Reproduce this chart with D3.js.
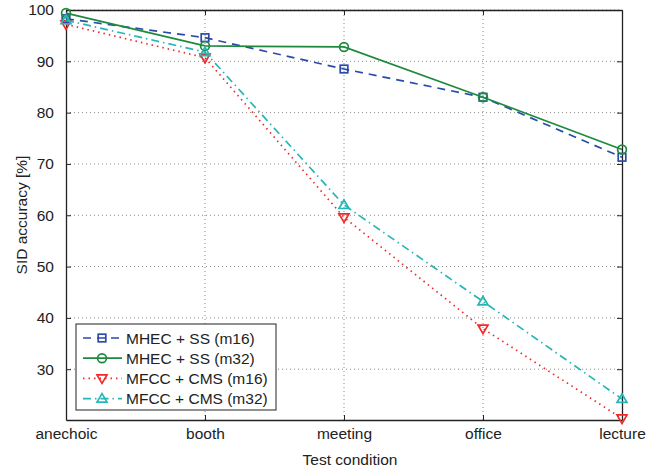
<!DOCTYPE html>
<html>
<head>
<meta charset="utf-8">
<script src="https://cdn.jsdelivr.net/npm/d3@7"></script>
<style>
  body { margin: 0; background: #fff; }
  svg text { font-family: "Liberation Sans", Arial, sans-serif; fill: #222; }
  .grid line { stroke: #888; stroke-dasharray: 1,3; }
</style>
</head>
<body>
<div id="chart"></div>
<script>
// data
const conditions = ["anechoic", "booth", "meeting", "office", "lecture"];
const mhecM16 = [98.3, 94.6, 88.5, 83.0, 71.3];
const mhecM32 = [99.4, 93.0, 92.8, 83.0, 72.8];
const mfccM16 = [97.2, 90.7, 59.6, 37.9, 20.4];
const mfccM32 = [98.0, 91.8, 62.0, 43.2, 24.2];
const yTicks = [30, 40, 50, 60, 70, 80, 90, 100];

const width = 657;
const height = 471;
const margin = {top: 10, right: 35, bottom: 51, left: 66};
const fontSize = "15.5px";

const svg = d3.select("#chart")
    .append("svg")
    .attr("width", width)
    .attr("height", height);

const x = d3.scalePoint()
    .domain(conditions)
    .range([margin.left, width - margin.right]);

const y = d3.scaleLinear()
    .domain([20.1, 100])
    .range([height - margin.bottom, margin.top]);

const x0 = margin.left, x1 = width - margin.right;
const y0 = height - margin.bottom, y1 = margin.top;

// grid
const grid = svg.append("g").attr("class", "grid");
grid.selectAll(".gy")
    .data(yTicks)
    .enter()
    .append("line")
    .attr("x1", x0).attr("x2", x1)
    .attr("y1", d => y(d)).attr("y2", d => y(d));
grid.selectAll(".gx")
    .data(conditions.slice(1, -1))
    .enter()
    .append("line")
    .attr("y1", y0).attr("y2", y1)
    .attr("x1", d => x(d)).attr("x2", d => x(d));

// axes (matlab style: ticks inside, box)
const yaxis = d3.axisLeft(y).tickValues(yTicks).tickSizeInner(-5).tickSizeOuter(0).tickPadding(12);
const yaxisR = d3.axisRight(y).tickValues(yTicks).tickSizeInner(-5).tickSizeOuter(0).tickFormat("");
const xaxis = d3.axisBottom(x).tickSizeInner(-5).tickSizeOuter(0).tickPadding(8);
const xaxisT = d3.axisTop(x).tickSizeInner(-5).tickSizeOuter(0).tickFormat("");

svg.append("g").attr("transform", "translate(" + x0 + ",0)").call(yaxis);
svg.append("g").attr("transform", "translate(" + x1 + ",0)").call(yaxisR);
svg.append("g").attr("transform", "translate(0," + y0 + ")").call(xaxis);
svg.append("g").attr("transform", "translate(0," + y1 + ")").call(xaxisT);

svg.selectAll(".domain").attr("stroke", "#222").attr("stroke-width", 1.3);
svg.selectAll(".tick line").attr("stroke", "#222");
svg.selectAll(".tick text").style("font-size", fontSize).attr("fill", "#222");

svg.append("text")
    .attr("x", (x0 + x1) / 2 + 6)
    .attr("y", 465)
    .attr("text-anchor", "middle")
    .style("font-size", fontSize)
    .text("Test condition");

svg.append("text")
    .attr("transform", "rotate(-90)")
    .attr("x", -(y0 + y1) / 2)
    .attr("y", 27)
    .attr("text-anchor", "middle")
    .style("font-size", fontSize)
    .text("SID accuracy [%]");

// series
const series = [
  {name: "MHEC + SS (m16)", values: mhecM16, color: "#2b4ba8", dash: "8,6", marker: "square"},
  {name: "MHEC + SS (m32)", values: mhecM32, color: "#1d8a3e", dash: null, marker: "circle"},
  {name: "MFCC + CMS (m16)", values: mfccM16, color: "#ee2a2a", dash: "1.5,4", marker: "down"},
  {name: "MFCC + CMS (m32)", values: mfccM32, color: "#27b6b6", dash: "8,4,1.5,4", marker: "up"}
];

const line = d3.line()
    .x((d, i) => x(conditions[i]))
    .y(d => y(d));

function drawMarker(g, type, cx, cy, color) {
  if (type === "square") {
    g.append("rect").attr("x", cx - 3.8).attr("y", cy - 3.8).attr("width", 7.6).attr("height", 7.6)
      .attr("fill", "none").attr("stroke", color).attr("stroke-width", 1.7);
  } else if (type === "circle") {
    g.append("circle").attr("cx", cx).attr("cy", cy).attr("r", 4.4)
      .attr("fill", "none").attr("stroke", color).attr("stroke-width", 1.7);
  } else {
    const s = type === "up" ? -1 : 1;
    const pts = [[cx - 5, cy - s * 3.5], [cx + 5, cy - s * 3.5], [cx, cy + s * 5]];
    g.append("path").attr("d", "M" + pts.join("L") + "Z")
      .attr("fill", "none").attr("stroke", color).attr("stroke-width", 1.7);
  }
}

series.forEach(s => {
  const g = svg.append("g");
  g.append("path")
    .attr("d", line(s.values))
    .attr("fill", "none")
    .attr("stroke", s.color)
    .attr("stroke-width", 1.7)
    .attr("stroke-dasharray", s.dash);
  s.values.forEach((v, i) => drawMarker(g, s.marker, x(conditions[i]), y(v), s.color));
});

// legend
const lg = svg.append("g").attr("transform", "translate(76,324)");
lg.append("rect").attr("width", 200).attr("height", 86)
  .attr("fill", "#fff").attr("stroke", "#222").attr("stroke-width", 1);
series.forEach((s, i) => {
  const ly = 14 + i * 20.2;
  lg.append("line").attr("x1", 7).attr("x2", 46).attr("y1", ly).attr("y2", ly)
    .attr("stroke", s.color).attr("stroke-width", 1.7).attr("stroke-dasharray", s.dash);
  drawMarker(lg, s.marker, 26, ly, s.color);
  lg.append("text").attr("x", 50).attr("y", ly + 5.5).style("font-size", fontSize).text(s.name);
});
</script>
</body>
</html>
